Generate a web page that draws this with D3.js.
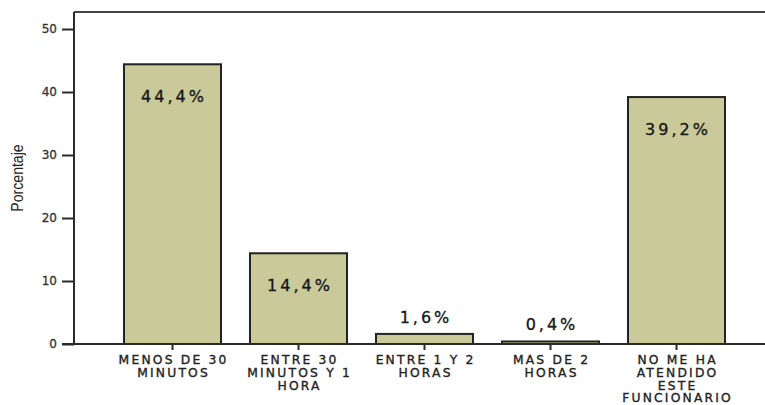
<!DOCTYPE html>
<html>
<head>
<meta charset="utf-8">
<script src="https://cdn.jsdelivr.net/npm/d3@7/dist/d3.min.js"></script>
<style>
  html, body { margin: 0; padding: 0; background: #fff; }
  svg { display: block; }
</style>
</head>
<body>
<svg id="chart" width="765" height="405"></svg>
<script>
// ---- data ----
const categories = [
  ["MENOS DE 30", "MINUTOS"],
  ["ENTRE 30", "MINUTOS Y 1", "HORA"],
  ["ENTRE 1 Y 2", "HORAS"],
  ["MAS DE 2", "HORAS"],
  ["NO ME HA", "ATENDIDO", "ESTE", "FUNCIONARIO"]
];
const values = [44.4, 14.4, 1.6, 0.4, 39.2];
const valueLabels = ["44,4%", "14,4%", "1,6%", "0,4%", "39,2%"];
const yTicks = [0, 10, 20, 30, 40, 50];
const yTitle = "Porcentaje";

// ---- layout ----
const svg = d3.select("#chart");
const W = 765, H = 405;
const x0 = 74, yBase = 344, yTop = 12;

const x = d3.scaleBand()
  .domain(d3.range(values.length))
  .range([109.5, 739.5])
  .paddingInner(0.23)
  .paddingOuter(0.115);

const y = d3.scaleLinear().domain([0, 52.7]).range([yBase, yTop]);

const ink = "#2a2a2a";
const wide = "DejaVu Sans, Verdana, sans-serif";

// bars
svg.append("g").selectAll("rect")
  .data(values)
  .join("rect")
  .attr("x", (d, i) => x(i))
  .attr("y", d => y(d))
  .attr("width", x.bandwidth())
  .attr("height", d => y(0) - y(d))
  .attr("fill", "#c9c999")
  .attr("stroke", "#222")
  .attr("stroke-width", 2);

// frame top line
svg.append("line")
  .attr("x1", x0).attr("x2", W + 5)
  .attr("y1", yTop).attr("y2", yTop)
  .attr("stroke", "#444").attr("stroke-width", 2);

// y axis
const yAxis = d3.axisLeft(y).tickValues(yTicks).tickSize(12).tickPadding(5);
const gy = svg.append("g").attr("transform", `translate(${x0},0)`).call(yAxis);
gy.select(".domain").attr("stroke", ink).attr("stroke-width", 2)
  .attr("d", `M0,${yTop}V${yBase}`);
gy.selectAll(".tick line").attr("stroke", ink).attr("stroke-width", 2);
gy.selectAll(".tick text")
  .attr("font-family", wide)
  .attr("font-size", 12)
  .attr("fill", "#333")
  .attr("stroke", "#333")
  .attr("stroke-width", 0.3);

// x axis
const xAxis = d3.axisBottom(x).tickSize(6).tickFormat("");
const gx = svg.append("g").attr("transform", `translate(0,${yBase})`).call(xAxis);
gx.select(".domain").attr("stroke", ink).attr("stroke-width", 2)
  .attr("d", `M${x0 - 12},0H${W + 5}`);
gx.selectAll(".tick line").attr("stroke", ink).attr("stroke-width", 2);

// category labels
const ls = 2.2;
const catG = svg.append("g")
  .attr("font-family", wide)
  .attr("font-size", 12.3)
  .attr("fill", "#222")
  .attr("stroke", "#222")
  .attr("stroke-width", 0.35)
  .attr("text-anchor", "middle");
categories.forEach((lines, i) => {
  const cx = x(i) + x.bandwidth() / 2 + ls / 2;
  const t = catG.append("text")
    .attr("x", cx)
    .attr("y", 364)
    .attr("letter-spacing", ls);
  lines.forEach((ln, k) => {
    t.append("tspan")
      .attr("x", cx)
      .attr("dy", k === 0 ? 0 : 12.8)
      .text(ln);
  });
});

// value labels
const vls = 3;
svg.append("g")
  .attr("font-family", wide)
  .attr("font-size", 16)
  .attr("fill", "#151515")
  .attr("stroke", "#151515")
  .attr("stroke-width", 0.3)
  .attr("text-anchor", "middle")
  .attr("letter-spacing", vls)
  .selectAll("text")
  .data(values)
  .join("text")
  .attr("x", (d, i) => x(i) + x.bandwidth() / 2 + vls / 2)
  .attr("y", d => d >= 10 ? y(d) + 38 : y(d) - 11)
  .text((d, i) => valueLabels[i]);

// y title
svg.append("text")
  .attr("transform", `translate(23,178) rotate(-90) scale(0.88,1)`)
  .attr("text-anchor", "middle")
  .attr("font-family", "Liberation Sans, Arial, sans-serif")
  .attr("font-size", 16)
  .attr("fill", "#222")
  .text(yTitle);
</script>
</body>
</html>
